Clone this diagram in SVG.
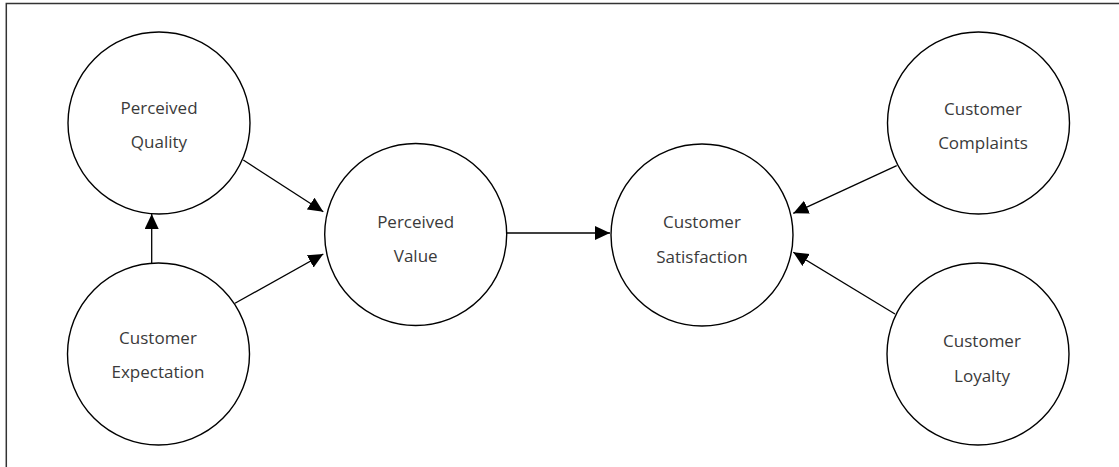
<svg xmlns="http://www.w3.org/2000/svg" width="1119" height="467" viewBox="0 0 1119 467">
  <style>
    .frame { fill: none; stroke: #333333; stroke-width: 1.5; }
    .node circle { fill: #ffffff; stroke: #000000; stroke-width: 1.4; }
    .node text { font-family: "Open Sans", "Liberation Sans", sans-serif; font-size: 17px; fill: #3a3a3a; text-anchor: middle; }
    .edge { stroke: #000000; stroke-width: 1.3; fill: none; marker-end: url(#arrow); }
  </style>
  <defs>
    <marker id="arrow" markerUnits="userSpaceOnUse" markerWidth="16" markerHeight="15" refX="15" refY="7" orient="auto">
      <path d="M0,0 L15,7 L0,14 Z" fill="#000000"/>
    </marker>
  </defs>

  <rect width="1119" height="467" fill="#ffffff"/>
  <!-- outer frame (right and bottom edges run past the canvas) -->
  <rect class="frame" x="6.3" y="3.5" width="1125" height="470"/>

  <g id="connectors">
    <line class="edge" x1="151.7" y1="263.3" x2="151.7" y2="214"/>
    <line class="edge" x1="243.3" y1="160" x2="323.3" y2="211.7"/>
    <line class="edge" x1="235" y1="303.3" x2="323.3" y2="254"/>
    <line class="edge" x1="507" y1="233" x2="610" y2="233"/>
    <line class="edge" x1="896.7" y1="165.7" x2="793.3" y2="213.3"/>
    <line class="edge" x1="895" y1="314" x2="793.3" y2="252.3"/>
  </g>

  <g id="perceived-quality" class="node">
    <circle cx="159" cy="123" r="91"/>
    <text x="159" y="113.5">Perceived</text>
    <text x="159" y="148.3">Quality</text>
  </g>

  <g id="customer-expectation" class="node">
    <circle cx="158.5" cy="354" r="91"/>
    <text x="158" y="343.5">Customer</text>
    <text x="158" y="378.3">Expectation</text>
  </g>

  <g id="perceived-value" class="node">
    <circle cx="415.7" cy="234.5" r="91"/>
    <text x="415.7" y="227.5">Perceived</text>
    <text x="415.7" y="262.3">Value</text>
  </g>

  <g id="customer-satisfaction" class="node">
    <circle cx="702" cy="235" r="91"/>
    <text x="702" y="228.3">Customer</text>
    <text x="702" y="263.3">Satisfaction</text>
  </g>

  <g id="customer-complaints" class="node">
    <circle cx="978.5" cy="123" r="91"/>
    <text x="983" y="115">Customer</text>
    <text x="983" y="149.3">Complaints</text>
  </g>

  <g id="customer-loyalty" class="node">
    <circle cx="978" cy="354" r="91"/>
    <text x="982" y="347.3">Customer</text>
    <text x="982" y="381.7">Loyalty</text>
  </g>
</svg>
